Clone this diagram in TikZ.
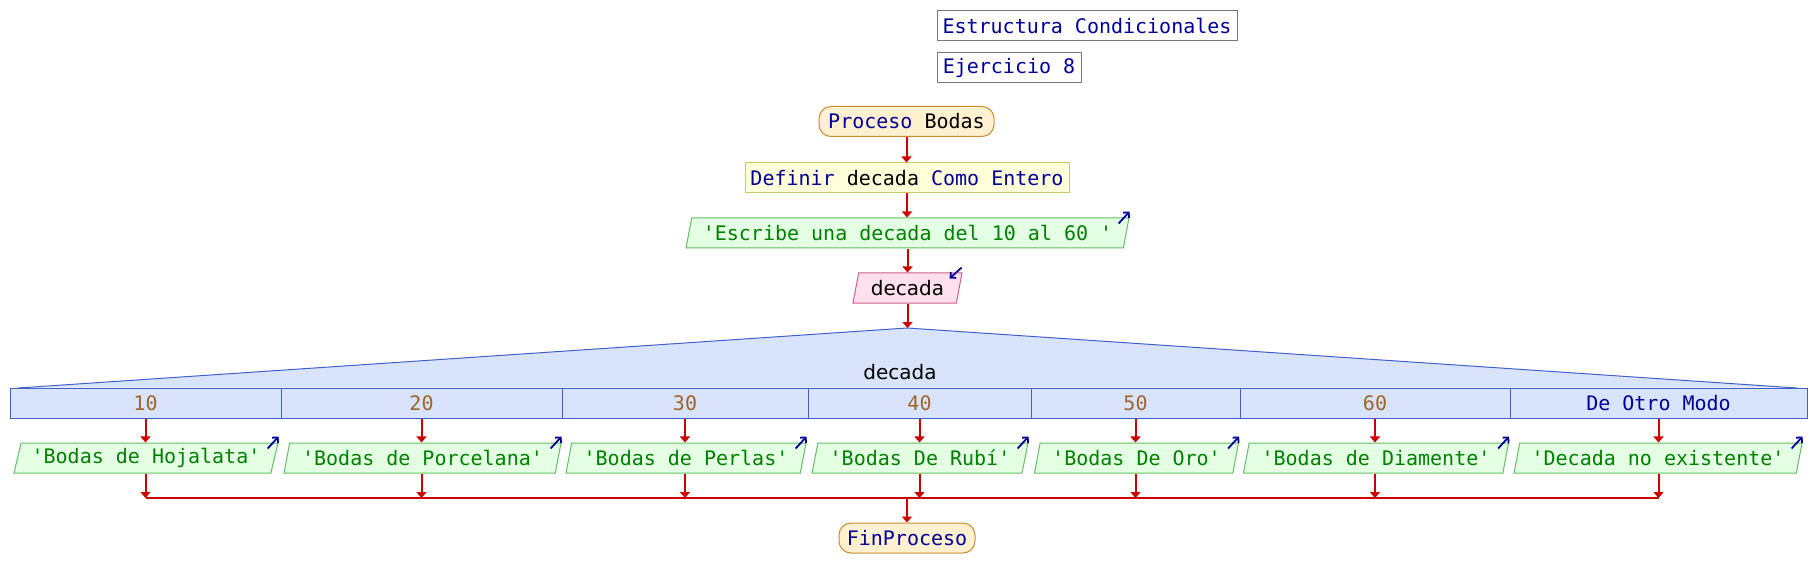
\documentclass[tikz,border=0pt]{standalone}
\usepackage{fontspec}
\setmainfont{DejaVu Sans Mono}
\newfontfamily\dvsans{DejaVu Sans}
\usetikzlibrary{shapes.geometric,arrows.meta,calc}
\newcommand\sqt{\textquotesingle}
\definecolor{kw}{RGB}{0,0,150}
\definecolor{titlegray}{RGB}{120,120,120}
\definecolor{procfill}{RGB}{255,240,208}
\definecolor{procborder}{RGB}{200,140,50}
\definecolor{deffill}{RGB}{255,255,218}
\definecolor{defborder}{RGB}{200,200,100}
\definecolor{outfill}{RGB}{228,255,228}
\definecolor{outborder}{RGB}{100,190,100}
\definecolor{outgreen}{RGB}{0,128,0}
\definecolor{infill}{RGB}{255,224,236}
\definecolor{inborder}{RGB}{200,100,140}
\definecolor{hatfill}{RGB}{216,228,252}
\definecolor{hatborder}{RGB}{64,96,200}
\definecolor{numbrown}{RGB}{160,100,40}
\definecolor{flowred}{RGB}{204,0,0}
\begin{document}
\begin{tikzpicture}[x=0.5pt,y=-0.5pt,
  font=\fontsize{10pt}{12pt}\selectfont,
  pbox/.style={draw, line width=0.5pt, minimum height=15pt, inner sep=0pt},
  titlebox/.style={pbox, draw=titlegray, fill=white, text=kw},
  procbox/.style={pbox, rounded corners=6pt, draw=procborder, fill=procfill},
  defbox/.style={pbox, draw=defborder, fill=deffill},
  para/.style={pbox, trapezium, trapezium left angle=70, trapezium right angle=110,
    trapezium stretches body},
  outbox/.style={para, draw=outborder, fill=outfill, text=outgreen},
  inbox/.style={para, draw=inborder, fill=infill},
  cell/.style={pbox, draw=hatborder, fill=hatfill, text=numbrown},
  flowline/.style={draw=flowred, line width=1pt},
  flow/.style={flowline, -{Triangle[width=5pt,length=3pt]}},
  icon/.style={draw=kw, line width=0.9pt, -{Straight Barb[length=2pt,width=4pt]}}
]
\useasboundingbox (0,0) rectangle (1814,588);

% header
\node[titlebox, minimum width=150pt] (title) at (1087,25.5) {Estructura Condicionales};
\node[titlebox, minimum width=72pt] (ej) at (1009,68) {Ejercicio 8};

% main flow
\node[procbox, minimum width=87.5pt] (proc) at (906.5,121.5) {{\color{kw}Proceso} Bodas};
\node[defbox, minimum width=162pt] (def) at (907,178) {{\color{kw}Definir} decada {\color{kw}Como Entero}};
\node[outbox, minimum width=221.5pt] (esc) at (907.5,233) {\sqt Escribe una decada del 10 al 60 \sqt};
\node[inbox, minimum width=54.5pt] (lee) at (907.5,288) {\dvsans decada};

% switch hat and cells
\coordinate (apex) at (907,328);
\coordinate (hl) at (18,388);
\coordinate (hr) at (1797,388);
\node[cell, minimum width=135.5pt] (c1) at (145.5,403) {10};
\node[cell, minimum width=140.5pt] (c2) at (421.5,403) {20};
\node[cell, minimum width=123pt] (c3) at (685,403) {30};
\node[cell, minimum width=111.5pt] (c4) at (919.5,403) {40};
\node[cell, minimum width=104.5pt] (c5) at (1135.5,403) {50};
\node[cell, minimum width=135pt] (c6) at (1375,403) {60};
\node[cell, minimum width=148.5pt, text=kw] (c7) at (1658.5,403) {De Otro Modo};
\fill[hatfill] (c1.north west) -- (hl) -- (apex) -- (hr) -- (c7.north east) -- cycle;
\draw[hatborder, line width=0.5pt] (hl) -- (apex) -- (hr);
\node[font=\dvsans\fontsize{10pt}{12pt}\selectfont, anchor=base, inner sep=0pt] (sel) at (900,379) {decada};

% outputs
\node[outbox, minimum width=132pt] (o1) at (146,458) {\sqt Bodas de Hojalata\sqt};
\node[outbox, minimum width=138.5pt] (o2) at (422.5,458) {\sqt Bodas de Porcelana\sqt};
\node[outbox, minimum width=120pt] (o3) at (686,458) {\sqt Bodas de Perlas\sqt};
\node[outbox, minimum width=108pt] (o4) at (920,458) {\sqt Bodas De Rubí\sqt};
\node[outbox, minimum width=102pt] (o5) at (1136.5,458) {\sqt Bodas De Oro\sqt};
\node[outbox, minimum width=132.5pt] (o6) at (1376,458) {\sqt Bodas de Diamente\sqt};
\node[outbox, minimum width=144pt] (o7) at (1658,458) {\sqt Decada no existente\sqt};

\node[procbox, minimum width=68pt, text=kw] (fin) at (907,538) {FinProceso};

% connectors
\draw[flow] (proc.south) -- (proc.south |- def.north);
\draw[flow] (def.south) -- (def.south |- esc.north);
\draw[flow] (esc.south) -- (esc.south |- lee.north);
\draw[flow] (lee.south) -- (lee.south |- apex);
\foreach \i in {1,...,7}{
  \draw[flow] (c\i.south) -- (c\i.south |- o\i.north);
  \coordinate (m\i) at ($(c\i.south)+(0,79.5)$);
  \draw[flow] (c\i.south |- o\i.south) -- (m\i);
  \draw[icon] ($(o\i.top right corner)+(-11,6)$) -- ($(o\i.top right corner)+(0,-6)$);
}
\draw[flowline] (m1) -- (m7);
\coordinate (mc) at (907,497.5);
\draw[flow] (mc) -- (mc |- fin.north);

% io icons
\draw[icon] ($(esc.top right corner)+(-11,6)$) -- ($(esc.top right corner)+(0,-6)$);
\draw[icon] ($(lee.top right corner)+(-1,-5)$) -- ($(lee.top right corner)+(-13,6)$);
\end{tikzpicture}
\end{document}
